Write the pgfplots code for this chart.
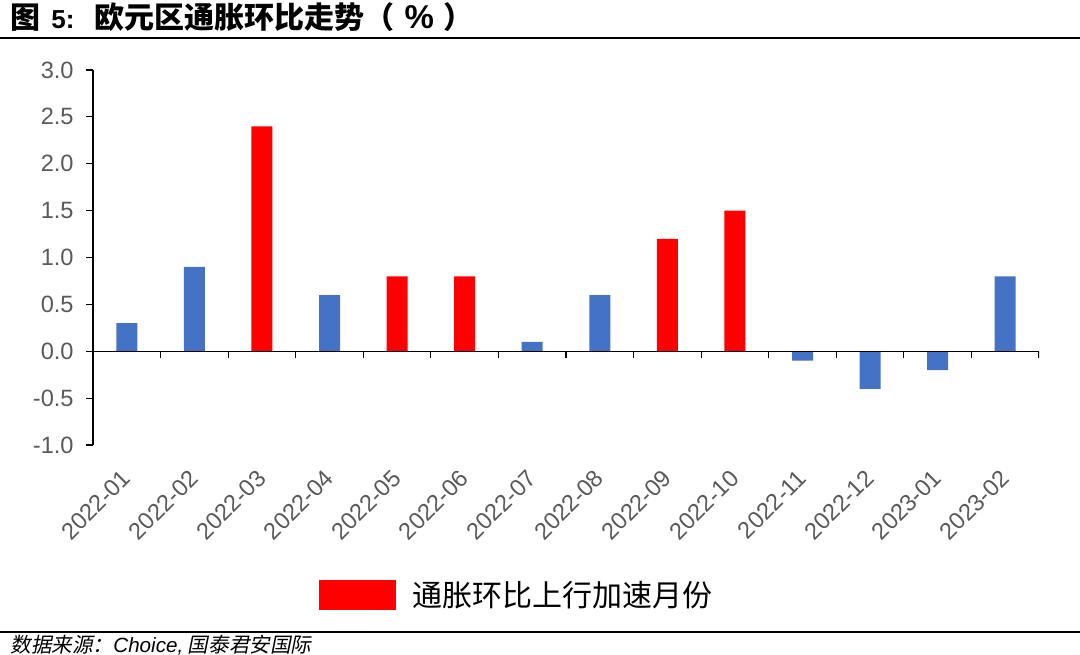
\documentclass[border=0pt]{standalone}
\usepackage{fontspec}
\usepackage{pgfplots}
\pgfplotsset{compat=1.18}
\setmainfont{Liberation Sans}
\newfontfamily\cjk{Noto Sans CJK SC}
\newfontfamily\cjksl{Noto Sans CJK SC}[FakeSlant=0.2]
\definecolor{barblue}{HTML}{4472C4}
\definecolor{barred}{HTML}{FF0000}
\definecolor{ticktxt}{HTML}{595959}

\begin{document}
\begin{tikzpicture}
  \path[use as bounding box] (0,0) rectangle (540pt,327pt);

  % title and rules
  \node[anchor=west, inner sep=0pt, font=\fontsize{15}{17}\selectfont\bfseries]
    at (5pt,318.5pt) {{\cjk 图}\hspace{5.5pt}{\rmfamily\fontsize{13}{15}\selectfont 5:}\hspace{10pt}{\cjk 欧元区通胀环比走势（}\hspace{5pt}{\rmfamily\fontsize{16.5}{18}\selectfont\%}\hspace{5pt}{\cjk ）}};
  \draw[line width=0.6pt] (0,308pt) -- (540pt,308pt);
  \draw[line width=0.6pt] (0,11pt) -- (540pt,11pt);
  \node[anchor=west, inner sep=0pt, font=\fontsize{10.3}{12}\selectfont]
    at (5pt,4.5pt) {\cjksl 数据来源：{\rmfamily\itshape Choice,} 国泰君安国际};

  \begin{axis}[
    at={(46.5pt,104.5pt)}, anchor=south west,
    scale only axis, width=473pt, height=187.5pt,
    xmin=-0.5, xmax=13.5, ymin=-1, ymax=3,
    axis y line*=left, axis x line*=bottom,
    x axis line style={draw=none},
    y axis line style={line width=0.6pt},
    tick align=outside, major tick length=3.5pt,
    xtick={0,...,13},
    xticklabels={2022-01,2022-02,2022-03,2022-04,2022-05,2022-06,2022-07,
                 2022-08,2022-09,2022-10,2022-11,2022-12,2023-01,2023-02},
    major x tick style={draw=none},
    ytick={-1,-0.5,0,0.5,1,1.5,2,2.5,3},
    yticklabels={-1.0,-0.5,0.0,0.5,1.0,1.5,2.0,2.5,3.0},
    y tick style={line width=0.6pt, black},
    ticklabel style={font=\fontsize{11.8}{14}\selectfont, text=ticktxt},
    xticklabel style={rotate=45, anchor=east, inner sep=0pt},
    xticklabel shift=11pt,
    yticklabel style={anchor=east, inner sep=0pt, xshift=-6pt},
    legend style={at={(0.239,-0.4)}, anchor=west, draw=none, fill=none,
                  inner sep=0pt, outer sep=0pt, column sep=8pt,
                  nodes={inner sep=0pt},
                  font=\fontsize{15}{17}\selectfont},
  ]
    \addplot[ybar, bar width=10.5pt, bar shift=0pt, fill=barblue, draw=none,
             forget plot]
      coordinates {(0,0.3) (1,0.9) (3,0.6) (6,0.1) (7,0.6)
                   (10,-0.1) (11,-0.4) (12,-0.2) (13,0.8)};
    \addplot[ybar, bar width=10.5pt, bar shift=0pt, fill=barred, draw=none,
             legend image code/.code={\fill[barred] (0pt,-7.5pt) rectangle (38.5pt,7.5pt);}]
      coordinates {(2,2.4) (4,0.8) (5,0.8) (8,1.2) (9,1.5)};
    \addlegendentry{\cjk 通胀环比上行加速月份}

    \draw[line width=0.6pt] (axis cs:-0.5,0) -- (axis cs:13.5,0);
    \pgfplotsinvokeforeach{0.5,1.5,...,13.5}{
      \draw[line width=0.6pt] (axis cs:#1,0) -- ++(0pt,-3.5pt);
    }
  \end{axis}
\end{tikzpicture}
\end{document}
